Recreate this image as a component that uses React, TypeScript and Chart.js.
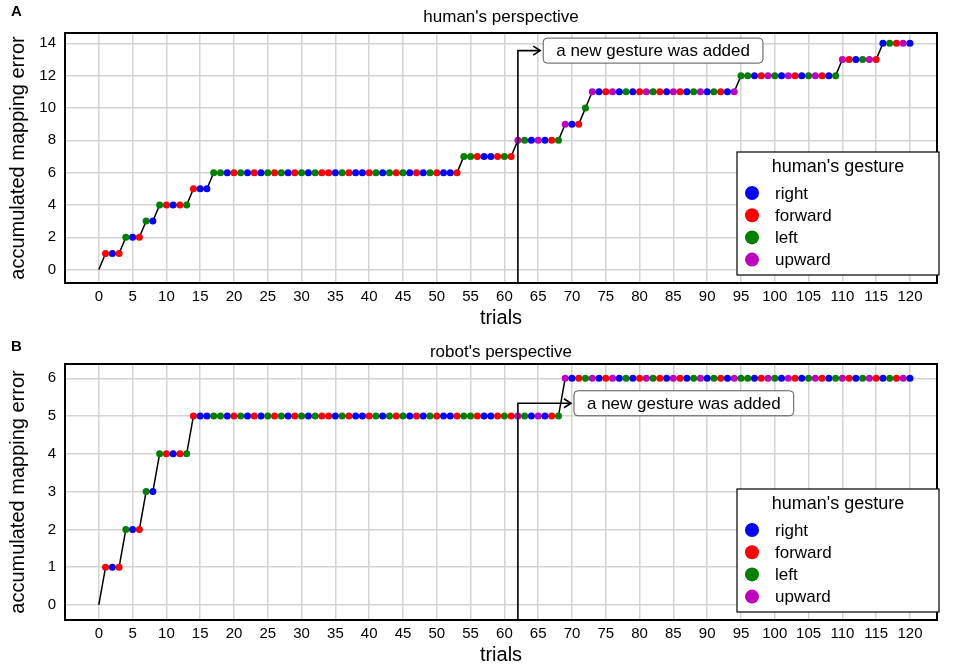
import React, { useEffect, useRef } from "react";
import { Chart, registerables } from "chart.js";
Chart.register(...registerables);

const FONT = "'Liberation Sans', Arial, Helvetica, sans-serif";

const trials = [
  0, 1, 2, 3, 4, 5, 6, 7, 8, 9, 10, 11, 12, 13, 14, 15, 16, 17, 18, 19, 20,
  21, 22, 23, 24, 25, 26, 27, 28, 29, 30, 31, 32, 33, 34, 35, 36, 37, 38, 39, 40,
  41, 42, 43, 44, 45, 46, 47, 48, 49, 50, 51, 52, 53, 54, 55, 56, 57, 58, 59, 60,
  61, 62, 63, 64, 65, 66, 67, 68, 69, 70, 71, 72, 73, 74, 75, 76, 77, 78, 79, 80,
  81, 82, 83, 84, 85, 86, 87, 88, 89, 90, 91, 92, 93, 94, 95, 96, 97, 98, 99, 100,
  101, 102, 103, 104, 105, 106, 107, 108, 109, 110, 111, 112, 113, 114, 115, 116, 117, 118, 119, 120,
];

const humanError = [
  0, 1, 1, 1, 2, 2, 2, 3, 3, 4,
  4, 4, 4, 4, 5, 5, 5, 6, 6, 6,
  6, 6, 6, 6, 6, 6, 6, 6, 6, 6,
  6, 6, 6, 6, 6, 6, 6, 6, 6, 6,
  6, 6, 6, 6, 6, 6, 6, 6, 6, 6,
  6, 6, 6, 6, 7, 7, 7, 7, 7, 7,
  7, 7, 8, 8, 8, 8, 8, 8, 8, 9,
  9, 9, 10, 11, 11, 11, 11, 11, 11, 11,
  11, 11, 11, 11, 11, 11, 11, 11, 11, 11,
  11, 11, 11, 11, 11, 12, 12, 12, 12, 12,
  12, 12, 12, 12, 12, 12, 12, 12, 12, 12,
  13, 13, 13, 13, 13, 13, 14, 14, 14, 14,
  14,
];

const robotError = [
  0, 1, 1, 1, 2, 2, 2, 3, 3, 4,
  4, 4, 4, 4, 5, 5, 5, 5, 5, 5,
  5, 5, 5, 5, 5, 5, 5, 5, 5, 5,
  5, 5, 5, 5, 5, 5, 5, 5, 5, 5,
  5, 5, 5, 5, 5, 5, 5, 5, 5, 5,
  5, 5, 5, 5, 5, 5, 5, 5, 5, 5,
  5, 5, 5, 5, 5, 5, 5, 5, 5, 6,
  6, 6, 6, 6, 6, 6, 6, 6, 6, 6,
  6, 6, 6, 6, 6, 6, 6, 6, 6, 6,
  6, 6, 6, 6, 6, 6, 6, 6, 6, 6,
  6, 6, 6, 6, 6, 6, 6, 6, 6, 6,
  6, 6, 6, 6, 6, 6, 6, 6, 6, 6,
  6,
];

// r = right, f = forward, l = left, u = upward ("" = starting point, no marker)
const gestures = [
  "",
  "f", "r", "f", "l", "r", "f", "l", "r", "l", "f",
  "r", "f", "l", "f", "r", "r", "l", "l", "r", "f",
  "l", "r", "f", "r", "l", "f", "l", "r", "f", "l",
  "r", "l", "f", "f", "r", "l", "f", "r", "r", "f",
  "l", "r", "l", "f", "l", "r", "f", "r", "l", "f",
  "r", "r", "f", "l", "l", "f", "r", "r", "f", "l",
  "f", "u", "l", "r", "u", "r", "f", "l", "u", "r",
  "f", "l", "u", "r", "f", "u", "r", "l", "r", "f",
  "u", "l", "f", "r", "u", "f", "r", "l", "u", "r",
  "l", "f", "r", "u", "l", "l", "r", "f", "u", "l",
  "r", "u", "f", "r", "l", "u", "f", "r", "l", "u",
  "f", "r", "l", "u", "f", "r", "l", "f", "u", "r",
];

const gestureCodes = ["r", "f", "l", "u"];
const gestureLabels = ["right", "forward", "left", "upward"];
const gestureColors = ["#0000ff", "#ff0000", "#008000", "#bf00bf"];

const xTicks = [0, 5, 10, 15, 20, 25, 30, 35, 40, 45, 50, 55, 60, 65, 70, 75, 80, 85, 90, 95, 100, 105, 110, 115, 120];
const yTicksA = [0, 2, 4, 6, 8, 10, 12, 14];
const yTicksB = [0, 1, 2, 3, 4, 5, 6];

const gestureAddedTrial = 62;
const annotationText = "a new gesture was added";

type PanelCfg = {
  letter: string;
  title: string;
  errors: number[];
  yTicks: number[];
  yMin: number;
  yMax: number;
  padTop: number;
  padBottom: number;
  titleY: number;
  annotY: number;
  annotTipX: number;
};

function colorOf(code: string) {
  const i = gestureCodes.indexOf(code);
  return i >= 0 ? gestureColors[i] : "rgba(0,0,0,0)";
}

function makePlugin(cfg: PanelCfg) {
  return {
    id: "panelDecor",
    afterDatasetsDraw(chart: any) {
      const { ctx, chartArea } = chart;
      const xs = chart.scales.x;
      const ys = chart.scales.y;
      const lx = xs.getPixelForValue(gestureAddedTrial);
      const ly = ys.getPixelForValue(cfg.annotY);
      const tipX = xs.getPixelForValue(cfg.annotTipX);
      ctx.save();
      ctx.strokeStyle = "#000";
      ctx.lineWidth = 1.6;
      ctx.beginPath();
      ctx.moveTo(lx, chartArea.bottom);
      ctx.lineTo(lx, ly);
      ctx.lineTo(tipX, ly);
      ctx.stroke();
      ctx.beginPath();
      ctx.moveTo(tipX - 7, ly - 4.5);
      ctx.lineTo(tipX, ly);
      ctx.lineTo(tipX - 7, ly + 4.5);
      ctx.stroke();
      ctx.font = `17px ${FONT}`;
      const tw = ctx.measureText(annotationText).width;
      const bx = tipX + 3;
      const bw = tw + 26;
      const bh = 25;
      const by = ly - bh / 2;
      ctx.beginPath();
      (ctx as any).roundRect(bx, by, bw, bh, 4);
      ctx.fillStyle = "#fff";
      ctx.fill();
      ctx.lineWidth = 1;
      ctx.strokeStyle = "#555";
      ctx.stroke();
      ctx.fillStyle = "#000";
      ctx.textBaseline = "middle";
      ctx.textAlign = "left";
      ctx.fillText(annotationText, bx + 13, ly + 1);
      ctx.restore();
    },
    afterDraw(chart: any) {
      const { ctx, chartArea } = chart;
      ctx.save();
      ctx.strokeStyle = "#000";
      ctx.lineWidth = 2;
      ctx.strokeRect(chartArea.left, chartArea.top, chartArea.right - chartArea.left, chartArea.bottom - chartArea.top);
      ctx.fillStyle = "#000";
      ctx.font = `bold 15px ${FONT}`;
      ctx.textAlign = "left";
      ctx.textBaseline = "middle";
      ctx.fillText(cfg.letter, 11, cfg.titleY - 5);
      ctx.font = `17px ${FONT}`;
      ctx.textAlign = "center";
      ctx.fillText(cfg.title, (chartArea.left + chartArea.right) / 2, cfg.titleY);
      const lw = 202;
      const lh = 123;
      const lxr = chartArea.right + 2;
      const lx0 = lxr - lw;
      const ly0 = chartArea.bottom - 8 - lh;
      ctx.fillStyle = "#fff";
      ctx.fillRect(lx0, ly0, lw, lh);
      ctx.strokeStyle = "#000";
      ctx.lineWidth = 1.2;
      ctx.strokeRect(lx0, ly0, lw, lh);
      ctx.fillStyle = "#000";
      ctx.font = `18px ${FONT}`;
      ctx.textAlign = "center";
      ctx.fillText("human's gesture", lx0 + lw / 2, ly0 + 15);
      ctx.font = `17px ${FONT}`;
      ctx.textAlign = "left";
      for (let i = 0; i < gestureLabels.length; i++) {
        const cy = ly0 + 41 + i * 22.2;
        ctx.beginPath();
        ctx.arc(lx0 + 15, cy, 7, 0, Math.PI * 2);
        ctx.fillStyle = gestureColors[i];
        ctx.fill();
        ctx.fillStyle = "#000";
        ctx.fillText(gestureLabels[i], lx0 + 38, cy + 1);
      }
      ctx.restore();
    },
  };
}

function buildChart(canvas: HTMLCanvasElement, cfg: PanelCfg) {
  const data = cfg.errors.map((y, i) => ({ x: trials[i], y }));
  const colors = gestures.map((g) => colorOf(g));
  const radii = gestures.map((g) => (g ? 3.5 : 0));
  const gridOpts = { color: "#d4d4d4", lineWidth: 1.5, drawTicks: false };
  return new Chart(canvas, {
    type: "line",
    data: {
      datasets: [
        {
          data,
          borderColor: "#000",
          borderWidth: 1.5,
          pointRadius: radii,
          pointHoverRadius: radii,
          pointBackgroundColor: colors,
          pointBorderColor: colors,
          pointBorderWidth: 0,
          tension: 0,
          fill: false,
        },
      ],
    },
    options: {
      animation: false,
      responsive: false,
      events: [],
      layout: { padding: { top: cfg.padTop, right: 20, bottom: cfg.padBottom, left: 0 } },
      plugins: { legend: { display: false }, tooltip: { enabled: false }, title: { display: false } },
      scales: {
        x: {
          type: "linear",
          min: -5,
          max: 124,
          afterBuildTicks: (s: any) => {
            s.ticks = xTicks.map((v) => ({ value: v }));
          },
          afterFit: (s: any) => {
            s.height = 50;
          },
          grid: gridOpts,
          border: { display: false },
          ticks: { font: { family: FONT, size: 15 }, color: "#000", padding: 5, autoSkip: false, maxRotation: 0 },
          title: { display: true, text: "trials", font: { family: FONT, size: 20 }, color: "#000", padding: { top: 0, bottom: 3 } },
        },
        y: {
          type: "linear",
          min: cfg.yMin,
          max: cfg.yMax,
          afterBuildTicks: (s: any) => {
            s.ticks = cfg.yTicks.map((v) => ({ value: v }));
          },
          afterFit: (s: any) => {
            s.width = 65;
          },
          grid: gridOpts,
          border: { display: false },
          ticks: { font: { family: FONT, size: 15 }, color: "#000", padding: 9 },
          title: { display: true, text: "accumulated mapping error", font: { family: FONT, size: 20 }, color: "#000", padding: { top: 6, bottom: 0 } },
        },
      },
    } as any,
    plugins: [makePlugin(cfg) as any],
  });
}

const panelA: PanelCfg = {
  letter: "A",
  title: "human's perspective",
  errors: humanError,
  yTicks: yTicksA,
  yMin: -0.83,
  yMax: 14.64,
  padTop: 33,
  padBottom: 7,
  titleY: 17,
  annotY: 13.55,
  annotTipX: 65.3,
};

const panelB: PanelCfg = {
  letter: "B",
  title: "robot's perspective",
  errors: robotError,
  yTicks: yTicksB,
  yMin: -0.4,
  yMax: 6.38,
  padTop: 24,
  padBottom: 1,
  titleY: 12,
  annotY: 5.34,
  annotTipX: 69.85,
};

export default function App() {
  const refA = useRef<HTMLCanvasElement>(null);
  const refB = useRef<HTMLCanvasElement>(null);
  useEffect(() => {
    const a = buildChart(refA.current!, panelA);
    const b = buildChart(refB.current!, panelB);
    return () => {
      a.destroy();
      b.destroy();
    };
  }, []);
  return (
    <div style={{ position: "absolute", left: 0, top: 0, width: 957, height: 671, background: "#fff" }}>
      <canvas ref={refA} width={957} height={340} style={{ position: "absolute", left: 0, top: 0, width: 957, height: 340 }} />
      <canvas ref={refB} width={957} height={331} style={{ position: "absolute", left: 0, top: 340, width: 957, height: 331 }} />
    </div>
  );
}
